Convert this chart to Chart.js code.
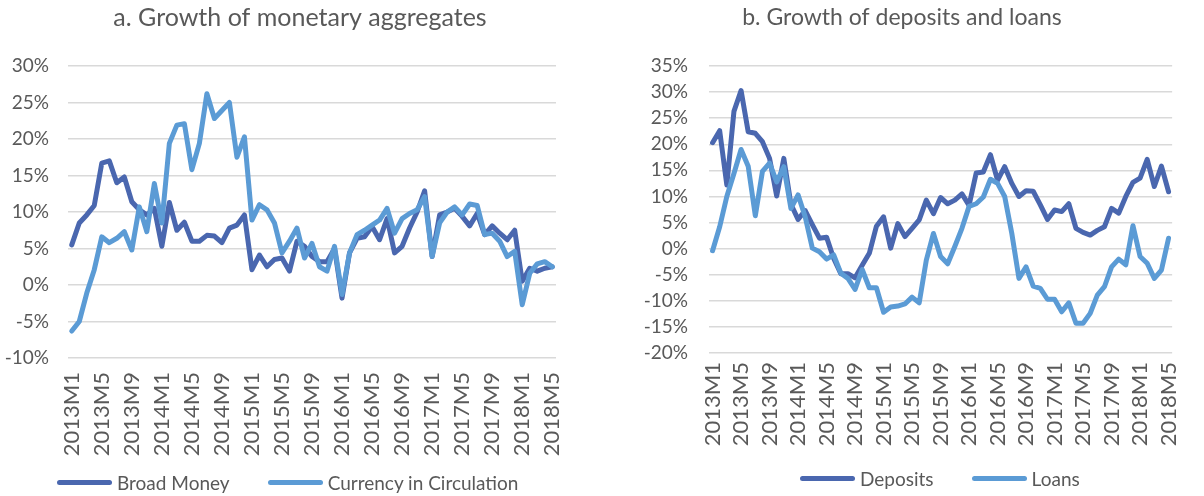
<!DOCTYPE html>
<html>
<head>
<meta charset="utf-8">
<script src="https://cdn.jsdelivr.net/npm/chart.js@4/dist/chart.umd.min.js"></script>
<style>
  html, body { margin: 0; padding: 0; background: #fff; }
  #wrap { position: relative; width: 1204px; height: 496px; overflow: hidden; }
  canvas { position: absolute; top: 0; }
  #c1 { left: 0; }
  #c2 { left: 600px; }
  .legend { position: absolute; display: flex; align-items: center; height: 22px;
            font-family: Lato, "Open Sans", sans-serif; font-size: 19px; color: #595959; white-space: nowrap; }
  .legend .sw { width: 55px; height: 5px; border-radius: 3px; margin-right: 5px; }
  .legend .item { display: flex; align-items: center; margin-right: 38px; }
  .legend .item:last-child { margin-right: 0; }
</style>
</head>
<body>
<div id="wrap">
  <canvas id="c1" width="600" height="496"></canvas>
  <canvas id="c2" width="604" height="496"></canvas>
  <div class="legend" id="leg1" style="left:57px; top:471px;"></div>
  <div class="legend" id="leg2" style="left:800px; top:467px;"></div>
</div>
<script>
// monthly categories 2013M1 .. 2018M5
const months = [
  '2013M1','2013M2','2013M3','2013M4','2013M5','2013M6','2013M7','2013M8','2013M9','2013M10','2013M11','2013M12',
  '2014M1','2014M2','2014M3','2014M4','2014M5','2014M6','2014M7','2014M8','2014M9','2014M10','2014M11','2014M12',
  '2015M1','2015M2','2015M3','2015M4','2015M5','2015M6','2015M7','2015M8','2015M9','2015M10','2015M11','2015M12',
  '2016M1','2016M2','2016M3','2016M4','2016M5','2016M6','2016M7','2016M8','2016M9','2016M10','2016M11','2016M12',
  '2017M1','2017M2','2017M3','2017M4','2017M5','2017M6','2017M7','2017M8','2017M9','2017M10','2017M11','2017M12',
  '2018M1','2018M2','2018M3','2018M4','2018M5'
];

// panel a (percent)
const broadMoney = [
  5.5, 8.5, 9.6, 10.9, 16.7, 17.0, 14.0, 14.8, 11.4, 10.3, 9.6, 10.5,
  5.3, 11.3, 7.5, 8.6, 6.0, 6.0, 6.8, 6.7, 5.8, 7.8, 8.2, 9.6,
  2.1, 4.1, 2.5, 3.5, 3.7, 1.9, 6.0, 5.3, 3.9, 3.2, 3.2, 5.0,
  -1.8, 4.4, 6.4, 6.6, 8.0, 6.2, 9.1, 4.4, 5.3, 7.8, 10.0, 12.9,
  3.9, 9.6, 10.0, 10.5, 9.4, 8.1, 9.8, 6.9, 8.1, 7.1, 6.2, 7.5,
  0.5, 2.3, 1.9, 2.3, 2.5
];
const currency = [
  -6.3, -5.0, -1.1, 2.1, 6.6, 5.8, 6.4, 7.3, 4.8, 10.7, 7.3, 13.9,
  8.5, 19.4, 21.9, 22.1, 15.8, 19.4, 26.2, 22.8, 23.9, 25.0, 17.5, 20.3,
  8.9, 11.0, 10.3, 8.5, 4.4, 6.0, 7.8, 3.7, 5.7, 2.5, 1.9, 5.3,
  -1.3, 4.4, 6.9, 7.5, 8.2, 8.9, 10.5, 7.1, 9.1, 9.8, 10.3, 12.1,
  3.9, 8.5, 10.0, 10.7, 9.6, 11.1, 10.9, 6.9, 7.1, 6.0, 3.9, 4.6,
  -2.7, 1.6, 2.9, 3.2, 2.5
];

// panel b (percent)
const deposits = [
  20.3, 22.6, 12.2, 26.3, 30.3, 22.4, 22.1, 20.5, 17.3, 10.1, 17.3, 8.5,
  5.6, 7.3, 4.6, 2.0, 2.2, -1.9, -4.8, -4.8, -5.6, -3.2, -0.9, 4.3,
  6.1, 0.1, 4.8, 2.3, 3.9, 5.5, 9.3, 6.7, 9.8, 8.6, 9.3, 10.5,
  8.3, 14.5, 14.7, 18.0, 13.1, 15.7, 12.5, 10.0, 11.1, 11.0, 8.4, 5.6,
  7.4, 7.1, 8.6, 3.9, 3.1, 2.6, 3.5, 4.2, 7.7, 6.8, 10.0, 12.7,
  13.5, 17.1, 11.9, 15.8, 10.9
];
const loans = [
  -0.4, 4.2, 10.0, 14.4, 19.0, 15.8, 6.3, 14.8, 16.4, 12.8, 15.7, 7.7,
  10.3, 6.1, 0.1, -0.6, -2.0, -1.2, -4.7, -5.7, -7.8, -4.0, -7.5, -7.5,
  -12.2, -11.2, -11.0, -10.6, -9.3, -10.4, -2.2, 2.9, -1.5, -2.9, 0.4, 3.9,
  8.1, 8.6, 9.9, 13.3, 12.5, 10.0, 2.9, -5.7, -3.5, -7.2, -7.6, -9.7,
  -9.7, -12.1, -10.4, -14.3, -14.3, -12.4, -8.9, -7.3, -3.5, -2.0, -3.1, 4.4,
  -1.5, -2.8, -5.7, -4.1, 2.0
];

const yTicksA = { min: -10, max: 30, step: 5 };
const yTicksB = { min: -20, max: 35, step: 5 };

const darkBlue = '#4A67AF';
const lightBlue = '#5B9BD5';
const textGrey = '#595959';
const FONT = 'Lato, "Open Sans", sans-serif';

function lineSet(label, data, color, order) {
  return {
    label: label,
    data: data,
    borderColor: color,
    backgroundColor: color,
    borderWidth: 5,
    pointRadius: 0,
    tension: 0,
    borderJoinStyle: 'round',
    borderCapStyle: 'round',
    order: order
  };
}

function makeChart(id, title, sets, yr, cfg) {
  const ctx = document.getElementById(id).getContext('2d');
  return new Chart(ctx, {
    type: 'line',
    data: { labels: months, datasets: sets },
    options: {
      responsive: false,
      animation: false,
      devicePixelRatio: 1,
      layout: { padding: { top: cfg.padTop, bottom: 0, left: 0, right: 0 } },
      plugins: {
        title: {
          display: true,
          text: title,
          color: textGrey,
          font: { family: FONT, size: cfg.titleSize, weight: 'normal' },
          padding: { top: 0, bottom: cfg.titleGap }
        },
        legend: { display: false },
        tooltip: { enabled: false }
      },
      scales: {
        x: {
          offset: true,
          grid: { display: false, drawTicks: false },
          border: { display: false },
          ticks: {
            autoSkip: false,
            maxRotation: 90,
            minRotation: 90,
            padding: cfg.xPad,
            color: textGrey,
            font: { family: FONT, size: 22 },
            callback: function (v, i) { return i % 4 === 0 ? months[i] : ''; }
          },
          afterFit: s => { s.height = cfg.xHeight; }
        },
        y: {
          min: yr.min,
          max: yr.max,
          grid: { color: '#D9D9D9', lineWidth: 1.5, drawTicks: false },
          border: { display: false },
          ticks: {
            stepSize: yr.step,
            padding: cfg.yPad,
            color: textGrey,
            font: { family: FONT, size: 19 },
            callback: v => v + '%'
          },
          afterFit: s => { s.width = cfg.yWidth; }
        },
        yR: {
          position: 'right',
          grid: { display: false, drawTicks: false },
          border: { display: false },
          ticks: { display: false },
          afterFit: s => { s.width = cfg.rightGap; }
        }
      }
    }
  });
}

function buildLegend(id, sets) {
  const box = document.getElementById(id);
  sets.forEach(ds => {
    const item = document.createElement('div');
    item.className = 'item';
    const sw = document.createElement('div');
    sw.className = 'sw';
    sw.style.background = ds.borderColor;
    const tx = document.createElement('span');
    tx.textContent = ds.label;
    item.appendChild(sw);
    item.appendChild(tx);
    box.appendChild(item);
  });
}

const setsA = [lineSet('Broad Money', broadMoney, darkBlue, 1), lineSet('Currency in Circulation', currency, lightBlue, 0)];
const setsB = [lineSet('Deposits', deposits, darkBlue, 1), lineSet('Loans', loans, lightBlue, 0)];

makeChart('c1', 'a. Growth of monetary aggregates', setsA, yTicksA,
  { padTop: 3, titleSize: 25, titleGap: 33, xPad: 14, xHeight: 138, yPad: 19, yWidth: 68, rightGap: 44 });

makeChart('c2', 'b. Growth of deposits and loans', setsB, yTicksB,
  { padTop: 4, titleSize: 23, titleGap: 34.4, xPad: 9, xHeight: 143, yPad: 21, yWidth: 109, rightGap: 4 });

buildLegend('leg1', setsA);
buildLegend('leg2', setsB);
</script>
</body>
</html>
